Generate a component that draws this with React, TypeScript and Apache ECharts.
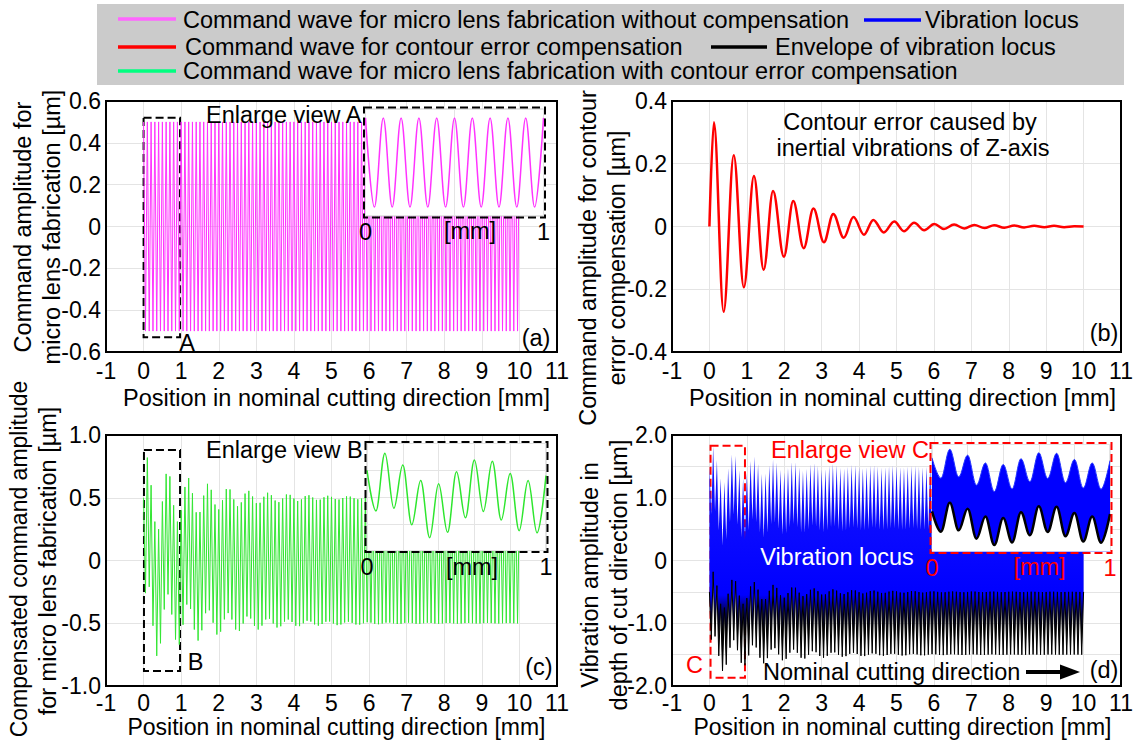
import React, { useEffect, useRef } from "react";
import * as echarts from "echarts";

const FONT = '"Liberation Sans", Arial, Helvetica, sans-serif';
const FS = 23.5;

// spacing between a peak and the next trough of the 0.1 mm command wave [mm]
const HALF_STEP = 0.05;

// (a) command wave without compensation: peaks at 0,0.1,...,10 and troughs at 0.05,...,9.95
const aPeak = [
  0.5, 0.5, 0.5, 0.5, 0.5, 0.5, 0.5, 0.5, 0.5, 0.5, 0.5, 0.5, 0.5, 0.5, 0.5, 0.5, 0.5, 0.5, 0.5, 0.5,
  0.5, 0.5, 0.5, 0.5, 0.5, 0.5, 0.5, 0.5, 0.5, 0.5, 0.5, 0.5, 0.5, 0.5, 0.5, 0.5, 0.5, 0.5, 0.5, 0.5,
  0.5, 0.5, 0.5, 0.5, 0.5, 0.5, 0.5, 0.5, 0.5, 0.5, 0.5, 0.5, 0.5, 0.5, 0.5, 0.5, 0.5, 0.5, 0.5, 0.5,
  0.5, 0.5, 0.5, 0.5, 0.5, 0.5, 0.5, 0.5, 0.5, 0.5, 0.5, 0.5, 0.5, 0.5, 0.5, 0.5, 0.5, 0.5, 0.5, 0.5,
  0.5, 0.5, 0.5, 0.5, 0.5, 0.5, 0.5, 0.5, 0.5, 0.5, 0.5, 0.5, 0.5, 0.5, 0.5, 0.5, 0.5, 0.5, 0.5, 0.5,
  0.5,
];
const aTrough = [
  -0.5, -0.5, -0.5, -0.5, -0.5, -0.5, -0.5, -0.5, -0.5, -0.5, -0.5, -0.5, -0.5, -0.5, -0.5, -0.5, -0.5, -0.5, -0.5, -0.5,
  -0.5, -0.5, -0.5, -0.5, -0.5, -0.5, -0.5, -0.5, -0.5, -0.5, -0.5, -0.5, -0.5, -0.5, -0.5, -0.5, -0.5, -0.5, -0.5, -0.5,
  -0.5, -0.5, -0.5, -0.5, -0.5, -0.5, -0.5, -0.5, -0.5, -0.5, -0.5, -0.5, -0.5, -0.5, -0.5, -0.5, -0.5, -0.5, -0.5, -0.5,
  -0.5, -0.5, -0.5, -0.5, -0.5, -0.5, -0.5, -0.5, -0.5, -0.5, -0.5, -0.5, -0.5, -0.5, -0.5, -0.5, -0.5, -0.5, -0.5, -0.5,
  -0.5, -0.5, -0.5, -0.5, -0.5, -0.5, -0.5, -0.5, -0.5, -0.5, -0.5, -0.5, -0.5, -0.5, -0.5, -0.5, -0.5, -0.5, -0.5, -0.5,
];

// (b) contour error compensation: extremes of the decaying oscillation
const bX = [
  0, 0.12, 0.38, 0.65, 0.92, 1.19, 1.45, 1.7, 1.99, 2.24, 2.52, 2.78, 3.06, 3.31, 3.59, 3.85, 4.13, 4.38, 4.66, 4.94,
  5.2, 5.47, 5.74, 6.01, 6.27, 6.54, 6.81, 7.08, 7.35, 7.61, 7.88, 8.15, 8.41, 8.68, 8.95, 9.21, 9.48, 9.75, 10.0,
];
const bY = [
  0, 0.332, -0.272, 0.227, -0.194, 0.161, -0.138, 0.113, -0.096, 0.081, -0.069, 0.057, -0.05, 0.04, -0.036, 0.03,
  -0.026, 0.021, -0.019, 0.016, -0.015, 0.012, -0.012, 0.008, -0.008, 0.006, -0.006, 0.005, -0.005, 0.004, -0.004,
  0.003, -0.003, 0.002, -0.002, 0.002, -0.002, 0.001, 0,
];

// (c) compensated command wave
const cPeak = [
  0.5, 0.82, 0.6, 0.31, 0.25, 0.47, 0.69, 0.67, 0.44, 0.31,
  0.4, 0.586, 0.657, 0.536, 0.384, 0.386, 0.517, 0.611, 0.563, 0.446,
  0.407, 0.48, 0.569, 0.566, 0.487, 0.432, 0.463, 0.533, 0.555, 0.51,
  0.457, 0.46, 0.508, 0.54, 0.52, 0.478, 0.465, 0.494, 0.526, 0.523,
  0.494, 0.474, 0.487, 0.513, 0.52, 0.502, 0.483, 0.485, 0.504, 0.516,
  0.507, 0.49, 0.486, 0.498, 0.511, 0.509, 0.496, 0.488, 0.494, 0.505,
  0.507, 0.5, 0.493, 0.494, 0.502, 0.506, 0.502, 0.496, 0.494, 0.499,
  0.505, 0.504, 0.498, 0.495, 0.498, 0.503, 0.504, 0.5, 0.496, 0.497,
  0.501, 0.503, 0.501, 0.498, 0.497, 0.5, 0.502, 0.501, 0.499, 0.498,
  0.499, 0.502, 0.502, 0.5, 0.498, 0.499, 0.5, 0.501, 0.5, 0.499,
  0.5,
];
const cTrough = [
  -0.26, -0.21, -0.52, -0.76, -0.66, -0.39, -0.27, -0.43, -0.63, -0.67,
  -0.512, -0.351, -0.386, -0.55, -0.638, -0.556, -0.42, -0.397, -0.496, -0.59,
  -0.567, -0.469, -0.419, -0.47, -0.55, -0.562, -0.502, -0.446, -0.462, -0.521,
  -0.55, -0.519, -0.47, -0.464, -0.502, -0.534, -0.524, -0.487, -0.47, -0.49,
  -0.52, -0.523, -0.5, -0.48, -0.487, -0.509, -0.519, -0.506, -0.488, -0.486,
  -0.502, -0.515, -0.51, -0.494, -0.488, -0.497, -0.51, -0.511, -0.5, -0.492,
  -0.495, -0.504, -0.508, -0.502, -0.495, -0.495, -0.501, -0.506, -0.504, -0.497,
  -0.495, -0.499, -0.504, -0.504, -0.5, -0.496, -0.498, -0.502, -0.504, -0.501,
  -0.498, -0.498, -0.501, -0.503, -0.502, -0.499, -0.498, -0.5, -0.502, -0.502,
  -0.499, -0.498, -0.499, -0.501, -0.502, -0.5, -0.499, -0.499, -0.5, -0.501,
];

// (d) vibration locus: upper boundary of the locus band
const dTopPeak = [
  1.5, 1.82, 1.6, 1.31, 1.25, 1.47, 1.69, 1.67, 1.44, 1.31,
  1.4, 1.586, 1.657, 1.536, 1.384, 1.386, 1.517, 1.611, 1.563, 1.446,
  1.407, 1.48, 1.569, 1.566, 1.487, 1.432, 1.463, 1.533, 1.555, 1.51,
  1.457, 1.46, 1.508, 1.54, 1.52, 1.478, 1.465, 1.494, 1.526, 1.523,
  1.494, 1.474, 1.487, 1.513, 1.52, 1.502, 1.483, 1.485, 1.504, 1.516,
  1.507, 1.49, 1.486, 1.498, 1.511, 1.509, 1.496, 1.488, 1.494, 1.505,
  1.507, 1.5, 1.493, 1.494, 1.502, 1.506, 1.502, 1.496, 1.494, 1.499,
  1.505, 1.504, 1.498, 1.495, 1.498, 1.503, 1.504, 1.5, 1.496, 1.497,
  1.501, 1.503, 1.501, 1.498, 1.497, 1.5, 1.502, 1.501, 1.499, 1.498,
  1.499, 1.502, 1.502, 1.5, 1.498, 1.499, 1.5, 1.501, 1.5, 1.499,
  1.5,
];
const dTopTrough = [
  0.74, 0.79, 0.48, 0.24, 0.34, 0.61, 0.73, 0.57, 0.37, 0.33,
  0.488, 0.649, 0.614, 0.45, 0.362, 0.444, 0.58, 0.603, 0.504, 0.41,
  0.433, 0.531, 0.581, 0.53, 0.45, 0.438, 0.498, 0.554, 0.538, 0.479,
  0.45, 0.481, 0.53, 0.536, 0.498, 0.466, 0.476, 0.513, 0.53, 0.51,
  0.48, 0.477, 0.5, 0.52, 0.513, 0.491, 0.481, 0.494, 0.512, 0.514,
  0.498, 0.485, 0.49, 0.506, 0.512, 0.503, 0.49, 0.489, 0.5, 0.508,
  0.505, 0.496, 0.492, 0.498, 0.505, 0.505, 0.499, 0.494, 0.496, 0.503,
  0.505, 0.501, 0.496, 0.496, 0.5, 0.504, 0.502, 0.498, 0.496, 0.499,
  0.502, 0.502, 0.499, 0.497, 0.498, 0.501, 0.502, 0.5, 0.498, 0.498,
  0.501, 0.502, 0.501, 0.499, 0.498, 0.5, 0.501, 0.501, 0.5, 0.499,
];
// (d) envelope of vibration locus (lower boundary)
const dEnvPeak = [
  -0.5, -0.18, -0.4, -0.69, -0.75, -0.53, -0.31, -0.33, -0.56, -0.69,
  -0.6, -0.414, -0.343, -0.464, -0.616, -0.614, -0.483, -0.389, -0.437, -0.554,
  -0.593, -0.52, -0.431, -0.434, -0.513, -0.568, -0.537, -0.467, -0.445, -0.49,
  -0.543, -0.54, -0.492, -0.46, -0.48, -0.522, -0.535, -0.506, -0.474, -0.477,
  -0.506, -0.526, -0.513, -0.487, -0.48, -0.498, -0.517, -0.515, -0.496, -0.484,
  -0.493, -0.51, -0.514, -0.502, -0.489, -0.491, -0.504, -0.512, -0.506, -0.495,
  -0.493, -0.5, -0.507, -0.506, -0.498, -0.494, -0.498, -0.504, -0.506, -0.501,
  -0.495, -0.496, -0.502, -0.505, -0.502, -0.497, -0.496, -0.5, -0.504, -0.503,
  -0.499, -0.497, -0.499, -0.502, -0.503, -0.5, -0.498, -0.499, -0.501, -0.502,
  -0.501, -0.498, -0.498, -0.5, -0.502, -0.501, -0.5, -0.499, -0.5, -0.501,
  -0.5,
];
const dEnvTrough = [
  -1.26, -1.21, -1.52, -1.76, -1.66, -1.39, -1.27, -1.43, -1.63, -1.67,
  -1.512, -1.351, -1.386, -1.55, -1.638, -1.556, -1.42, -1.397, -1.496, -1.59,
  -1.567, -1.469, -1.419, -1.47, -1.55, -1.562, -1.502, -1.446, -1.462, -1.521,
  -1.55, -1.519, -1.47, -1.464, -1.502, -1.534, -1.524, -1.487, -1.47, -1.49,
  -1.52, -1.523, -1.5, -1.48, -1.487, -1.509, -1.519, -1.506, -1.488, -1.486,
  -1.502, -1.515, -1.51, -1.494, -1.488, -1.497, -1.51, -1.511, -1.5, -1.492,
  -1.495, -1.504, -1.508, -1.502, -1.495, -1.495, -1.501, -1.506, -1.504, -1.497,
  -1.495, -1.499, -1.504, -1.504, -1.5, -1.496, -1.498, -1.502, -1.504, -1.501,
  -1.498, -1.498, -1.501, -1.503, -1.502, -1.499, -1.498, -1.5, -1.502, -1.502,
  -1.499, -1.498, -1.499, -1.501, -1.502, -1.5, -1.499, -1.499, -1.5, -1.501,
];

function wave(peaks: number[], troughs: number[]): number[][] {
  const out: number[][] = [];
  for (let i = 0; i < peaks.length; i++) {
    out.push([Math.round(i * 2 * HALF_STEP * 1000) / 1000, peaks[i]]);
    if (i < troughs.length) out.push([Math.round((2 * i + 1) * HALF_STEP * 1000) / 1000, troughs[i]]);
  }
  return out;
}
const firstMm = (pts: number[][]) => pts.filter((p) => p[0] <= 1.0001);

// layout
const GA = { left: 106, top: 101, width: 451, height: 251 };
const GB = { left: 672, top: 101, width: 449, height: 251 };
const GC = { left: 106, top: 435, width: 451, height: 251 };
const GD = { left: 672, top: 435, width: 449, height: 251 };
const IA = { left: 365.5, top: 109, width: 178, height: 107 };
const IB = { left: 367, top: 443.5, width: 179, height: 107 };
const IC = { left: 932, top: 444.5, width: 178, height: 107 };

const SPLIT = "#e4e4e4";

function mainX(gridIndex: number, nameGap: number, pad: number, margin: number, nameSize: number) {
  return {
    type: "value", gridIndex, min: -1, max: 11, interval: 1,
    axisLine: { show: false }, axisTick: { show: false },
    splitLine: { show: true, lineStyle: { color: SPLIT, width: 1 } },
    axisLabel: { fontSize: 23, color: "#000", fontFamily: FONT, margin },
    name: "Position in nominal cutting direction [mm]",
    nameLocation: "middle", nameGap, nameMoveOverlap: false,
    nameTextStyle: { fontSize: nameSize, color: "#000", fontFamily: FONT, padding: [0, 0, 0, pad] },
  };
}
function mainY(gridIndex: number, min: number, max: number, interval: number, minor = false) {
  return {
    type: "value", gridIndex, min, max, interval,
    axisLine: { show: false }, axisTick: { show: false },
    splitLine: { show: true, lineStyle: { color: SPLIT, width: 1 } },
    minorTick: { show: false, splitNumber: 2 },
    minorSplitLine: { show: minor, lineStyle: { color: SPLIT, width: 1 } },
    axisLabel: {
      fontSize: 23, color: "#000", fontFamily: FONT, margin: 5,
      formatter: (v: number) => (Math.abs(v) < 1e-9 ? "0" : v.toFixed(1)),
    },
  };
}
function insetX(gridIndex: number, interval: number, color: string) {
  return {
    type: "value", gridIndex, min: 0, max: 1, interval, z: 6,
    axisLine: { show: false }, axisTick: { show: false },
    splitLine: { show: true, lineStyle: { color: SPLIT, width: 1 } },
    axisLabel: {
      fontSize: FS, color, fontFamily: FONT, margin: 4,
      formatter: (v: number) => (Math.abs(v) < 1e-9 ? "0" : Math.abs(v - 1) < 1e-9 ? "1" : ""),
    },
  };
}
function insetY(gridIndex: number, min: number, max: number, interval: number, split: boolean) {
  return {
    type: "value", gridIndex, min, max, interval, z: 6,
    axisLine: { show: false }, axisTick: { show: false }, axisLabel: { show: false },
    splitLine: { show: split, lineStyle: { color: SPLIT, width: 1 } },
  };
}
function dashBox(color: string, x0: number, x1: number, y0: number, y1: number) {
  return {
    silent: true,
    label: { show: false },
    itemStyle: { color: "rgba(0,0,0,0)", borderColor: color, borderWidth: 2, borderType: [8, 4] },
    data: [[{ xAxis: x0, yAxis: y1 }, { xAxis: x1, yAxis: y0 }]],
  };
}

function text(t: string, x: number, y: number, o: any = {}) {
  return {
    type: "text", x, y, z: 30, silent: true, rotation: o.rotation || 0,
    style: {
      text: t, fill: o.fill || "#000", fontSize: o.fontSize || FS, fontFamily: FONT,
      align: o.align || "center", verticalAlign: "middle",
    },
  };
}
function hline(x1: number, x2: number, y: number, color: string, w = 3.5) {
  return { type: "line", z: 30, silent: true, shape: { x1, y1: y, x2, y2: y }, style: { stroke: color, lineWidth: w } };
}
function frame(g: any, dashed: string | null) {
  const pad = dashed ? 1.5 : 0;
  return {
    type: "rect", z: 25, silent: true,
    shape: { x: g.left - pad, y: g.top - pad, width: g.width + 2 * pad, height: g.height + 2 * pad },
    style: { fill: "none", stroke: dashed || "#000", lineWidth: 2, lineDash: dashed ? [8, 4] : null },
  };
}

export default function App() {
  const ref = useRef<HTMLDivElement>(null);
  useEffect(() => {
    if (!ref.current) return;
    const chart = echarts.init(ref.current, undefined, { renderer: "svg" });

    const aPts = wave(aPeak, aTrough);
    const bPts = bX.map((x, i) => [x, bY[i]]);
    const cPts = wave(cPeak, cTrough);
    const dTop = wave(dTopPeak, dTopTrough);
    const dEnv = wave(dEnvPeak, dEnvTrough);

    const ROT = Math.PI / 2;
    const lineCommon = { type: "line", showSymbol: false, symbol: "none", silent: true, animation: false };
    const smoothCommon = { smooth: 0.36, smoothMonotone: "x" };

    const grids = [GA, GB, GC, GD].map((g) => ({ ...g, containLabel: false, outerBoundsMode: "none", show: false }));
    const insetGrids = [IA, IB, IC].map((g) => ({
      ...g, containLabel: false, outerBoundsMode: "none", show: true, z: 5,
      backgroundColor: "#fff", borderColor: "#c8c8c8", borderWidth: 1,
    }));

    const option: any = {
      animation: false,
      backgroundColor: "#fff",
      grid: [...grids, ...insetGrids],
      xAxis: [
        mainX(0, 34, 10, 7, FS), mainX(1, 34, 12, 7, FS), mainX(2, 29, 10, 5, 23), mainX(3, 29, 12, 5, 23),
        insetX(4, 0.5, "#000"), insetX(5, 0.2, "#000"), insetX(6, 0.2, "#ff0000"),
      ],
      yAxis: [
        mainY(0, -0.6, 0.6, 0.2), mainY(1, -0.4, 0.4, 0.2), mainY(2, -1, 1, 0.5), mainY(3, -2, 2, 1, true),
        insetY(4, -0.6, 0.6, 0.2, false), insetY(5, -1, 1, 0.5, true), insetY(6, -2, 2, 1, true),
      ],
      series: [
        {
          ...lineCommon, name: "Command wave for micro lens fabrication without compensation",
          xAxisIndex: 0, yAxisIndex: 0, data: aPts, z: 2,
          lineStyle: { color: "#ff33ff", width: 1 },
          markArea: dashBox("#000", 0, 0.97, -0.53, 0.52),
        },
        {
          ...lineCommon, ...smoothCommon, name: "Command wave for contour error compensation",
          xAxisIndex: 1, yAxisIndex: 1, data: bPts, z: 2,
          lineStyle: { color: "#ff0000", width: 2.5 },
        },
        {
          ...lineCommon, name: "Command wave for micro lens fabrication with contour error compensation",
          xAxisIndex: 2, yAxisIndex: 2, data: cPts, z: 2,
          lineStyle: { color: "#33e633", width: 1 },
          markArea: dashBox("#000", 0.01, 0.97, -0.88, 0.88),
        },
        {
          type: "custom", name: "Vibration locus", xAxisIndex: 3, yAxisIndex: 3, silent: true, z: 2,
          data: [[0, 0]],
          renderItem: (_p: any, api: any) => {
            const pts: number[][] = [];
            for (const p of dTop) pts.push(api.coord(p));
            for (let i = dEnv.length - 1; i >= 0; i--) pts.push(api.coord(dEnv[i]));
            const y0 = api.coord([0, 2])[1];
            const y1 = api.coord([0, -2])[1];
            const off = (v: number) => (api.coord([0, v])[1] - y0) / (y1 - y0);
            return {
              type: "polygon",
              shape: { points: pts },
              style: {
                fill: new echarts.graphic.LinearGradient(0, y0, 0, y1, [
                  { offset: 0, color: "#1a1aff" },
                  { offset: off(-0.55), color: "#0000ff" },
                  { offset: off(-0.85), color: "#000040" },
                  { offset: off(-1.1), color: "#000000" },
                  { offset: 1, color: "#000000" },
                ], true),
              },
            };
          },
        },
        {
          ...lineCommon, name: "Envelope of vibration locus",
          xAxisIndex: 3, yAxisIndex: 3, data: dEnv, z: 3,
          lineStyle: { color: "#000", width: 1 },
          markArea: dashBox("#ff0000", 0.03, 0.95, -1.87, 1.83),
        },
        {
          ...lineCommon, ...smoothCommon, xAxisIndex: 4, yAxisIndex: 4, data: firstMm(aPts), z: 7,
          lineStyle: { color: "#ff33ff", width: 1.5 },
        },
        {
          ...lineCommon, ...smoothCommon, xAxisIndex: 5, yAxisIndex: 5, data: firstMm(cPts), z: 7,
          lineStyle: { color: "#2ee62e", width: 1.5 },
        },
        {
          ...lineCommon, ...smoothCommon, xAxisIndex: 6, yAxisIndex: 6, data: firstMm(dTop), z: 7,
          lineStyle: { color: "#2233ff", width: 1 },
          areaStyle: { color: "#0000ff", origin: "start", opacity: 1 },
        },
        {
          ...lineCommon, ...smoothCommon, xAxisIndex: 6, yAxisIndex: 6, data: firstMm(dEnv), z: 8,
          lineStyle: { color: "#000", width: 2.5 },
          areaStyle: { color: "#fff", origin: "start", opacity: 1 },
        },
      ],
      graphic: {
        elements: [
          // legend
          { type: "rect", z: 29, silent: true, shape: { x: 97, y: 4, width: 1027, height: 81 }, style: { fill: "#cbcbcb" } },
          hline(118, 176, 19, "#ff66ff"),
          text("Command wave for micro lens fabrication without compensation", 183, 20, { align: "left" }),
          hline(864, 921, 20, "#0000ff"),
          text("Vibration locus", 925, 20, { align: "left" }),
          hline(118, 176, 47, "#ff0000"),
          text("Command wave for contour error compensation", 185, 47, { align: "left" }),
          hline(711, 767, 47, "#000000"),
          text("Envelope of vibration locus", 775, 47, { align: "left" }),
          hline(118, 176, 71, "#00ff80"),
          text("Command wave for micro lens fabrication with contour error compensation", 183, 71, { align: "left" }),
          // frames
          frame(GA, null), frame(GB, null), frame(GC, null), frame(GD, null),
          frame(IA, "#000"), frame(IB, "#000"), frame(IC, "#ff0000"),
          // y titles
          text("Command amplitude for", 23, 227, { rotation: ROT }),
          text("micro lens fabrication [µm]", 52, 227, { rotation: ROT }),
          text("Command amplitude for contour", 588, 258, { rotation: ROT }),
          text("error compensation [µm]", 617, 258, { rotation: ROT }),
          text("Compensated command amplitude", 19, 559, { rotation: ROT, fontSize: 23 }),
          text("for micro lens fabrication [µm]", 48, 561, { rotation: ROT }),
          text("Vibration amplitude in", 590, 575, { rotation: ROT }),
          text("depth of cut direction [µm]", 619, 575, { rotation: ROT }),
          // panel (a)
          text("Enlarge view A", 206, 115, { align: "left" }),
          text("A", 187, 343),
          text("(a)", 536, 338),
          text("[mm]", 470, 231),
          // panel (b)
          text("Contour error caused by", 910, 121.5),
          text("inertial vibrations of Z-axis", 913, 148),
          text("(b)", 1104, 333),
          // panel (c)
          text("Enlarge view B", 206, 450, { align: "left" }),
          text("B", 195.5, 662),
          text("(c)", 539, 667),
          text("[mm]", 472, 567),
          // panel (d)
          text("Enlarge view C", 771, 450, { align: "left", fill: "#ff0000" }),
          text("C", 694.5, 665, { fill: "#ff0000" }),
          text("[mm]", 1039.5, 567, { fill: "#ff0000" }),
          text("Vibration locus", 837, 557, { fill: "#ffffff" }),
          text("Nominal cutting direction", 763, 672, { align: "left" }),
          hline(1026, 1063, 672, "#000", 4),
          { type: "polygon", z: 30, silent: true, shape: { points: [[1060, 664.5], [1080, 672], [1060, 679.5]] }, style: { fill: "#000" } },
          text("(d)", 1104, 670),
        ],
      },
    };
    chart.setOption(option);
    return () => chart.dispose();
  }, []);
  return <div ref={ref} style={{ position: "fixed", left: 0, top: 0, width: 1141, height: 742, background: "#fff" }} />;
}
